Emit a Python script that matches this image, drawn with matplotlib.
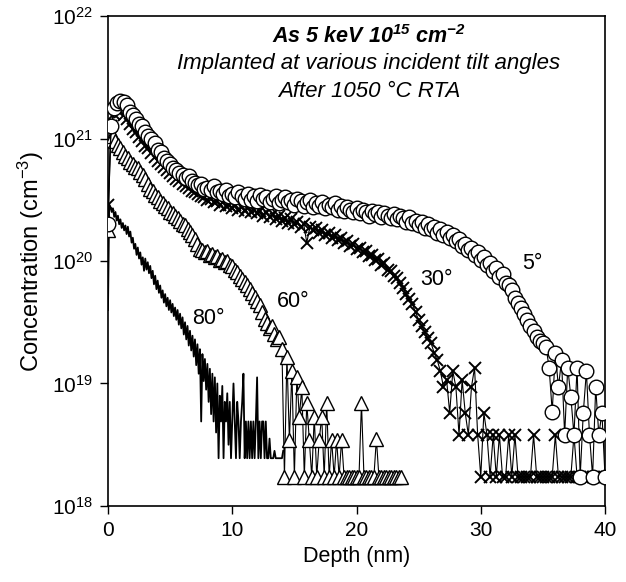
import numpy as np
import matplotlib
matplotlib.use("Agg")
import matplotlib.pyplot as plt

plt.rcParams['font.family'] = ['Liberation Sans', 'DejaVu Sans']
plt.rcParams['mathtext.fontset'] = 'custom'
plt.rcParams['mathtext.rm'] = 'Liberation Sans'
plt.rcParams['mathtext.it'] = 'Liberation Sans:italic'
plt.rcParams['mathtext.bf'] = 'Liberation Sans:bold'
plt.rcParams['mathtext.bfit'] = 'Liberation Sans:bold:italic'

# SIMS profiles, log10 of concentration (cm^-3) vs depth (nm)
# 5 deg tilt, circles, 0.25 nm step
step_5 = 0.25
log_5 = [20.30, 21.10, 21.25, 21.29, 21.31, 21.30, 21.27, 21.22, 21.19, 21.16,
         21.12, 21.10, 21.05, 21.02, 21.00, 20.96, 20.91, 20.89, 20.84, 20.82,
         20.79, 20.76, 20.74, 20.72, 20.70, 20.68, 20.69, 20.65, 20.64, 20.62,
         20.63, 20.59, 20.60, 20.58, 20.61, 20.56, 20.57, 20.55, 20.58, 20.53,
         20.55, 20.52, 20.56, 20.53, 20.51, 20.55, 20.50, 20.53, 20.49, 20.54,
         20.51, 20.52, 20.48, 20.51, 20.53, 20.47, 20.50, 20.52, 20.48, 20.50,
         20.46, 20.51, 20.49, 20.45, 20.48, 20.50, 20.44, 20.47, 20.45, 20.48,
         20.43, 20.46, 20.44, 20.47, 20.42, 20.45, 20.41, 20.44, 20.42, 20.40,
         20.43, 20.39, 20.42, 20.40, 20.37, 20.41, 20.38, 20.40, 20.36, 20.39,
         20.37, 20.35, 20.38, 20.34, 20.37, 20.35, 20.32, 20.36, 20.31, 20.33,
         20.29, 20.32, 20.27, 20.30, 20.26, 20.28, 20.23, 20.26, 20.21, 20.24,
         20.19, 20.21, 20.16, 20.18, 20.12, 20.14, 20.09, 20.11, 20.05, 20.07,
         20.01, 20.03, 19.97, 19.98, 19.92, 19.94, 19.87, 19.89, 19.82, 19.80,
         19.76, 19.70, 19.66, 19.62, 19.57, 19.52, 19.47, 19.43, 19.38, 19.35,
         19.33, 19.30, 19.13, 18.77, 19.25, 18.97, 19.19, 18.58, 19.13, 18.89,
         18.58, 19.13, 18.24, 18.76, 19.10, 18.58, 18.24, 18.97, 18.58, 18.76,
         18.24]

# 30 deg tilt, crosses, 0.25 nm step
step_30 = 0.25
log_30 = [20.46, 21.10, 21.20, 21.23, 21.22, 21.19, 21.16, 21.12, 21.08, 21.05,
          21.01, 20.98, 20.94, 20.92, 20.88, 20.85, 20.82, 20.79, 20.77, 20.74,
          20.72, 20.69, 20.67, 20.65, 20.63, 20.61, 20.60, 20.57, 20.56, 20.55,
          20.53, 20.52, 20.50, 20.51, 20.48, 20.49, 20.46, 20.48, 20.45, 20.46,
          20.43, 20.46, 20.42, 20.44, 20.41, 20.44, 20.40, 20.42, 20.39, 20.41,
          20.37, 20.40, 20.36, 20.38, 20.34, 20.37, 20.33, 20.35, 20.31, 20.34,
          20.30, 20.32, 20.28, 20.30, 20.15, 20.28, 20.25, 20.27, 20.23, 20.25,
          20.21, 20.23, 20.19, 20.21, 20.17, 20.19, 20.15, 20.16, 20.12, 20.14,
          20.10, 20.11, 20.07, 20.08, 20.04, 20.05, 20.01, 20.02, 19.97, 19.98,
          19.93, 19.92, 19.88, 19.86, 19.82, 19.78, 19.73, 19.69, 19.65, 19.58,
          19.52, 19.47, 19.42, 19.37, 19.33, 19.25, 19.19, 19.10, 18.97, 19.03,
          18.76, 19.10, 18.97, 18.58, 19.03, 18.76, 18.58, 18.97, 19.13, 18.58,
          18.24, 18.76, 18.58, 18.24, 18.58, 18.24, 18.58, 18.24, 18.24, 18.58,
          18.24, 18.58, 18.24, 18.24, 18.24, 18.24, 18.24, 18.58, 18.24, 18.24,
          18.24, 18.24, 18.24, 18.24, 18.58, 18.24, 18.24, 18.24, 18.24, 18.24,
          18.58, 18.24, 18.24, 18.24, 18.24, 18.24, 18.24, 18.24, 18.24, 18.24,
          18.24]

# 60 deg tilt, triangles, 0.2 nm step
step_60 = 0.2
log_60 = [20.25, 20.99, 21.02, 20.98, 20.95, 20.92, 20.89, 20.86, 20.84, 20.81,
          20.79, 20.77, 20.76, 20.73, 20.70, 20.67, 20.63, 20.59, 20.57, 20.54,
          20.52, 20.49, 20.47, 20.45, 20.43, 20.40, 20.39, 20.37, 20.35, 20.33,
          20.30, 20.29, 20.26, 20.24, 20.21, 20.18, 20.14, 20.10, 20.09, 20.07,
          20.08, 20.05, 20.06, 20.03, 20.04, 20.01, 20.02, 19.99, 20.00, 19.97,
          19.96, 19.93, 19.91, 19.88, 19.85, 19.83, 19.80, 19.77, 19.74, 19.71,
          19.67, 19.64, 19.58, 19.53, 19.49, 19.45, 19.47, 19.40, 19.36, 19.38,
          19.28, 18.24, 19.22, 18.54, 19.10, 18.24, 19.05, 18.73, 18.97, 18.24,
          18.84, 18.54, 18.24, 18.73, 18.24, 18.54, 18.73, 18.24, 18.84, 18.24,
          18.54, 18.24, 18.54, 18.24, 18.54, 18.24, 18.24, 18.24, 18.24, 18.24,
          18.24, 18.24, 18.84, 18.24, 18.24, 18.24, 18.24, 18.24, 18.55, 18.24,
          18.24, 18.24, 18.24, 18.24, 18.24, 18.24, 18.24, 18.24, 18.24]

# 80 deg tilt, solid line, 0.1 nm step
step_80 = 0.1
log_80 = [19.60, 20.46, 20.44, 20.40, 20.43, 20.36, 20.40, 20.33, 20.37, 20.30,
          20.34, 20.27, 20.31, 20.25, 20.29, 20.22, 20.28, 20.20, 20.24, 20.15,
          20.19, 20.10, 20.14, 20.05, 20.11, 20.02, 20.07, 19.97, 20.03, 19.92,
          20.02, 19.93, 19.99, 19.90, 19.96, 19.86, 19.92, 19.81, 19.88, 19.77,
          19.84, 19.74, 19.80, 19.70, 19.76, 19.66, 19.73, 19.63, 19.70, 19.60,
          19.68, 19.58, 19.65, 19.55, 19.62, 19.52, 19.60, 19.48, 19.57, 19.45,
          19.54, 19.40, 19.50, 19.36, 19.47, 19.31, 19.43, 19.27, 19.39, 19.22,
          19.36, 19.15, 19.32, 19.08, 19.28, 18.69, 19.24, 19.02, 19.20, 18.95,
          19.16, 18.85, 19.12, 18.75, 19.08, 18.69, 19.05, 18.60, 19.00, 18.39,
          18.90, 18.69, 18.98, 18.39, 18.85, 18.69, 18.92, 18.50, 18.85, 18.39,
          18.69, 19.00, 18.69, 18.39, 18.85, 18.69, 18.39, 18.69, 18.85, 19.08,
          18.39, 18.69, 18.39, 18.69, 18.39, 18.69, 18.39, 18.69, 18.39, 18.69,
          19.05, 18.39, 18.69, 18.39, 18.69, 18.69, 18.39, 18.69, 18.39, 18.39,
          18.55, 18.39, 18.39, 18.39, 18.45, 18.39, 18.39, 18.39, 18.39, 18.39,
          18.39, 18.45]

labels = ['5°', '30°', '60°', '80°']
label_pos = [(33.3, 9.6e19), (25.1, 7.1e19), (13.6, 4.7e19), (6.75, 3.4e19)]


def profile(step, logs):
    depth = np.arange(len(logs)) * step
    return depth, 10.0 ** np.array(logs)


fig = plt.figure(figsize=(6.26, 5.82), dpi=100)
ax = fig.add_axes([0.1725, 0.1306, 0.794, 0.8419])

d, c = profile(step_80, log_80)
ax.plot(d, c, color='black', lw=1.3, zorder=2)

d, c = profile(step_60, log_60)
ax.plot(d, c, color='black', lw=0.8, marker='^', ms=10, mfc='white',
        mec='black', mew=1.0, zorder=3)

d, c = profile(step_30, log_30)
ax.plot(d, c, color='black', lw=0.8, marker='x', ms=9, mew=1.4, zorder=4)

d, c = profile(step_5, log_5)
ax.plot(d, c, color='black', lw=0.8, marker='o', ms=10.5, mfc='white',
        mec='black', mew=1.0, zorder=5)

ax.set_yscale('log')
ax.set_xlim(0, 40)
ax.set_ylim(1e18, 1e22)
ax.set_xticks([0, 10, 20, 30, 40])
ax.set_yticks([1e18, 1e19, 1e20, 1e21, 1e22])
ax.set_yticklabels([r'$10^{18}$', r'$10^{19}$', r'$10^{20}$', r'$10^{21}$', r'$10^{22}$'])
ax.minorticks_off()
ax.tick_params(direction='out', length=6, width=1, labelsize=15, pad=5)
for s in ax.spines.values():
    s.set_linewidth(1.2)

ax.set_xlabel('Depth (nm)', fontsize=15.5, labelpad=4)
ax.set_ylabel(r'Concentration (cm$^{-3}$)', fontsize=17, labelpad=4)

for lab, (x, y) in zip(labels, label_pos):
    ax.text(x, y, lab, fontsize=15.5, ha='left', va='center', zorder=6)

ax.text(0.525, 0.959, r'As 5 keV 10$^{\mathbfit{15}}$ cm$^{\mathbfit{-2}}$',
        transform=ax.transAxes, ha='center', va='center', fontsize=15.5,
        fontweight='bold', style='italic')
ax.text(0.525, 0.904, 'Implanted at various incident tilt angles',
        transform=ax.transAxes, ha='center', va='center', fontsize=16,
        style='italic')
ax.text(0.525, 0.845, 'After 1050 °C RTA', transform=ax.transAxes,
        ha='center', va='center', fontsize=16, style='italic')

fig.savefig('out.png', dpi=100)
